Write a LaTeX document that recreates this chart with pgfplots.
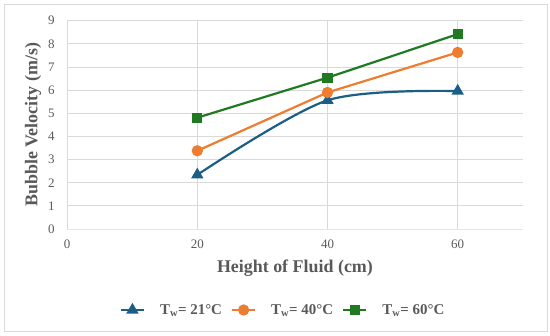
\documentclass[border=0pt]{standalone}
\usepackage{pgfplots}
\pgfplotsset{compat=1.18}
\usepackage{fontspec}
\setmainfont{Liberation Serif}
\definecolor{cblue}{HTML}{1B5E86}
\definecolor{corange}{HTML}{ED7D31}
\definecolor{cgreen}{HTML}{1F7A22}
\definecolor{ctext}{HTML}{595959}
\definecolor{cgrid}{HTML}{D9D9D9}
\begin{document}
\begin{tikzpicture}[x=1bp,y=1bp]
\path[use as bounding box] (0,0) rectangle (550,335);
\draw[color=cgrid, line width=0.8bp] (4,4) rectangle (547,331);
\begin{axis}[
  at={(67.1bp,106bp)}, anchor=south west,
  scale only axis, width=455.7bp, height=208.3bp,
  xmin=0, xmax=70, ymin=0, ymax=9,
  xtick={0,20,40,60}, ytick={0,1,...,9},
  grid=major, grid style={cgrid, line width=0.9bp},
  axis x line*=bottom, axis y line*=left,
  x axis line style={color=cgrid!80!black!30, line width=0.9bp, -},
  y axis line style={draw=none},
  major tick length=0pt,
  tick label style={font=\fontsize{13}{15}\selectfont, text=ctext},
  /pgf/number format/assume math mode=true,
  yticklabel style={xshift=-9bp},
  xticklabel style={yshift=-7bp},
  xlabel={Height of Fluid (cm)}, ylabel={Bubble Velocity (m/s)},
  label style={font=\fontsize{18}{20}\selectfont\bfseries, text=ctext},
  xlabel style={at={(axis description cs:0.5,0)}, anchor=center, yshift=-39bp},
  ylabel style={at={(axis description cs:0,0.5)}, anchor=center, rotate=0, yshift=34bp},
  legend style={at={(216bp,-81bp)}, anchor=center, draw=none, fill=none,
    legend columns=3, font=\fontsize{15}{17}\selectfont\bfseries, text=ctext,
    /tikz/every even column/.append style={column sep=7bp},
    /tikz/every odd column/.append style={column sep=13bp}},
  legend image code/.code={
    \draw[#1, mark repeat=2, mark phase=2] plot coordinates {(0bp,0bp) (11.5bp,0bp) (23bp,0bp)};
  },
]
\addplot[color=cblue, line width=2.2bp, smooth, mark=triangle*, mark size=5bp, mark options={solid}]
  coordinates {(20,2.34) (40,5.56) (60,5.96)};
\addlegendentry{T\textsubscript{w}= 21°C}
\addplot[color=corange, line width=2.2bp, mark=*, mark size=4.5bp]
  coordinates {(20,3.38) (40,5.90) (60,7.63)};
\addlegendentry{T\textsubscript{w}= 40°C}
\addplot[color=cgreen, line width=2.2bp, mark=square*, mark size=4bp]
  coordinates {(20,4.81) (40,6.54) (60,8.42)};
\addlegendentry{T\textsubscript{w}= 60°C}
\end{axis}
\end{tikzpicture}
\end{document}
